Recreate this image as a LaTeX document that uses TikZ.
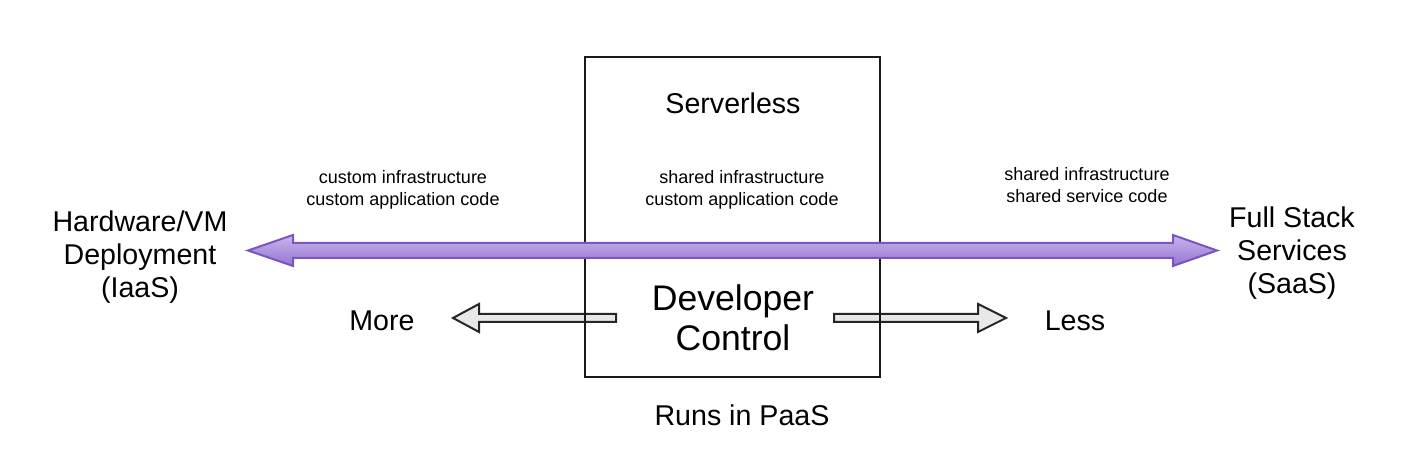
\documentclass[tikz,border=0pt]{standalone}
\usepackage{fontspec}
\setmainfont{Liberation Sans}
\usetikzlibrary{calc,positioning}
\definecolor{purpleline}{HTML}{7A55C0}
\definecolor{purpletop}{HTML}{C8B4EC}
\definecolor{purplebot}{HTML}{9674D2}
\definecolor{grayfill}{HTML}{E8E8E8}
\tikzset{
  big/.style={font=\fontsize{14.3pt}{16.5pt}\selectfont,align=center},
  huge/.style={font=\fontsize{17.8pt}{20pt}\selectfont,align=center},
  small/.style={font=\fontsize{9pt}{11pt}\selectfont,align=center},
  grayarrow/.style={draw=black!85,fill=grayfill,line width=1pt,line join=miter},
  purplearrow/.style={draw=purpleline,line width=1pt,top color=purpletop,bottom color=purplebot,line join=miter}
}
\begin{document}
\begin{tikzpicture}[x=0.5pt,y=-0.5pt]
      \useasboundingbox (0,0) rectangle (1410,458);
      % corners of the box
      \coordinate(A) at (585,57);
      \coordinate(B) at (880,377);
      % ends of the arrows
      \coordinate(L) at (248,250.5);
      \coordinate(R) at (1217,250.5);
      \coordinate(ML) at (453,318);
      \coordinate(MR) at (616,318);
      \coordinate(LL) at (834,318);
      \coordinate(LR) at (1006,318);
      % gray arrows
      \draw[grayarrow](ML)--++(26,-14)--++(0,10)--($(MR)+(0,-4)$)--($(MR)+(0,4)$)
        --($(ML)+(26,4)$)--++(0,10)--cycle;
      \draw[grayarrow](LR)--++(-28,-14)--++(0,10)--($(LL)+(0,-4)$)--($(LL)+(0,4)$)
        --($(LR)+(-28,4)$)--++(0,10)--cycle;
      \draw[line width=1pt,black!90](A) rectangle (B);
      % purple double arrow
      \draw[purplearrow](L)--++(45,-15.5)--++(0,8)--($(R)+(-44,-7.5)$)--++(0,-8)--(R)
        --++(-44,15.5)--++(0,-8)--($(L)+(45,7.5)$)--++(0,8)--cycle;
      % labels
      \node[big] (iaas) at (140,257) {Hardware/VM\\Deployment\\(IaaS)};
      \node[big] (saas) at (1292,253) {Full Stack\\Services\\(SaaS)};
      \node[big] (srv) at (733,103) {Serverless};
      \node[small] (mid) at (742,190) {shared infrastructure\\custom application code};
      \node[small] (cust) at (403,190) {custom infrastructure\\custom application code};
      \node[small] (shr) at (1087,185) {shared infrastructure\\shared service code};
      \node[huge] (dev) at (733,318) {Developer\\Control};
      \node[big] (more) at (382,321) {More};
      \node[big] (less) at (1075,321) {Less};
      \node[big] (paas) at (742,415) {Runs in PaaS};
    \end{tikzpicture}
\end{document}
